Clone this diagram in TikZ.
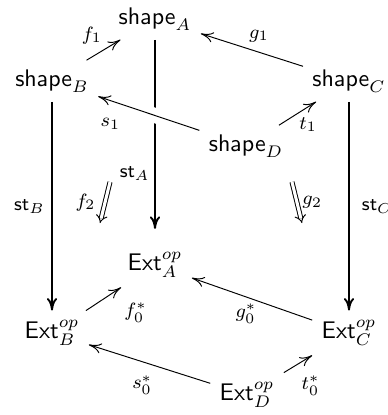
\documentclass[tikz,border=0pt]{standalone}
\usepackage{amsmath}
\usetikzlibrary{arrows.meta,positioning}

\begin{document}
\begin{tikzpicture}[x=0.01464cm, y=-0.01464cm,
    obj/.style={inner sep=3.75pt},
    arr/.style={-{To[length=5.2pt,width=4.3pt]}, line width=0.4pt},
    st/.style={-{To[length=5.2pt,width=4.3pt]}, line width=0.8pt},
    cell/.style={-{Implies}, double, double distance=1.27pt, line width=0.4pt},
    lbl/.style={inner sep=1.9pt, font=\footnotesize},
    over/.style={preaction={draw=white, line width=6.3pt, -}}]
  \useasboundingbox (0,0) rectangle (387,415);
  % top face
  \node[obj] (shapeA) at (155,19) {$\mathsf{shape}_A$};
  \node[obj] (shapeB) at (52,81) {$\mathsf{shape}_B$};
  \node[obj] (shapeC) at (349,81) {$\mathsf{shape}_C$};
  \node[obj] (shapeD) at (246,146) {$\mathsf{shape}_D$};
  % bottom face
  \node[obj] (extA) at (155,265) {$\mathsf{Ext}^{op}_A$};
  \node[obj] (extB) at (52,333) {$\mathsf{Ext}^{op}_B$};
  \node[obj] (extC) at (349,333) {$\mathsf{Ext}^{op}_C$};
  \node[obj] (extD) at (247,395) {$\mathsf{Ext}^{op}_D$};

  \draw[arr] (shapeB) -- node[lbl,pos=0.57,above left=-0.2pt and -0.4pt]{$f_1$} (shapeA);
  \draw[arr] (shapeC) -- node[lbl,pos=0.43,above=2.2pt]{$g_1$} (shapeA);
  \draw[st,shorten >=5.7pt] (shapeA) -- node[lbl,pos=0.66,left]{$\mathsf{st}_A$} (extA);
  \draw[arr,over] (shapeD) -- node[lbl,pos=0.88,below=5.2pt]{$s_1$} (shapeB);
  \draw[arr] (shapeD) -- node[lbl,pos=0.47,below right=-0.85pt and -0.85pt]{$t_1$} (shapeC);
  \draw[st] (shapeB) -- node[lbl,pos=0.5,left=0.8pt]{$\mathsf{st}_B$} (extB);
  \draw[st] (shapeC) -- node[lbl,pos=0.5,right=3.1pt]{$\mathsf{st}_C$} (extC);

  % 2-cells
  \coordinate (f2s) at (110,182);
  \coordinate (f2e) at (100,223);
  \coordinate (g2s) at (292,182);
  \coordinate (g2e) at (302,223);
  \draw[cell] (f2s) -- node[lbl,pos=0.5,left=1.9pt]{$f_2$} (f2e);
  \draw[cell] (g2s) -- node[lbl,pos=0.49,right=0.2pt]{$g_2$} (g2e);

  \draw[arr] (extB) -- node[lbl,pos=0.95,below right=3.9pt and 0pt]{$f^*_0$} (extA);
  \draw[arr] (extC) -- node[lbl,pos=0.55,below=0.8pt]{$g^*_0$} (extA);
  \draw[arr] (extD) -- node[lbl,pos=0.56,below=3.6pt]{$s^*_0$} (extB);
  \draw[arr] (extD) -- node[lbl,pos=0.45,below right=2.4pt and 0pt]{$t^*_0$} (extC);
\end{tikzpicture}
\end{document}
